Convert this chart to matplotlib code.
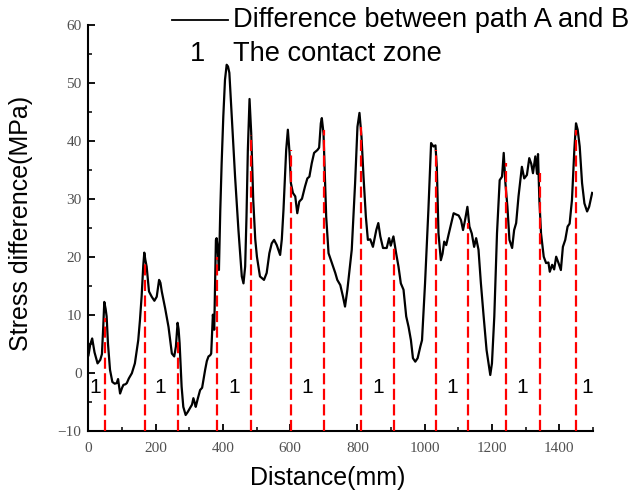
import matplotlib
matplotlib.use("Agg")
import matplotlib.pyplot as plt
from matplotlib.lines import Line2D
from matplotlib.ticker import MultipleLocator

# ---- data ----
dist = [0, 5, 11, 18, 27, 35, 40, 44, 47, 51, 54, 58, 64, 71, 78, 84, 88, 94, 100, 104,
        110, 114, 120, 129, 138, 148, 153, 158, 163, 166, 169, 173, 180, 188, 196, 203,
        210, 214, 218, 228, 238, 248, 255, 260, 265, 268, 271, 277, 282, 289, 295, 302,
        308, 312, 316, 319, 325, 332, 338, 347, 352, 357, 362, 365, 370, 374, 379, 381,
        384, 388, 392, 396, 401, 406, 411, 415, 419, 426, 436, 446, 456, 461, 466, 470,
        474, 479, 484, 490, 496, 501, 510, 522, 530, 538, 545, 552, 560, 570, 575, 580,
        588, 593, 598, 602, 608, 615, 621, 627, 635, 644, 651, 657, 664, 671, 681, 686,
        691, 694, 699, 707, 714, 724, 734, 740, 749, 757, 763, 770, 783, 793, 800, 806,
        812, 818, 825, 831, 838, 846, 856, 862, 868, 876, 887, 894, 899, 907, 915, 922,
        929, 937, 945, 952, 959, 965, 972, 979, 987, 992, 1001, 1011, 1019, 1026, 1032,
        1036, 1041, 1048, 1053, 1058, 1064, 1071, 1078, 1086, 1093, 1101, 1108, 1114,
        1120, 1127, 1133, 1140, 1147, 1153, 1160, 1167, 1175, 1184, 1190, 1195, 1200,
        1207, 1215, 1223, 1230, 1235, 1240, 1246, 1252, 1260, 1266, 1272, 1279, 1289,
        1296, 1304, 1311, 1317, 1322, 1329, 1334, 1337, 1341, 1346, 1354, 1361, 1368,
        1372, 1379, 1385, 1391, 1398, 1405, 1411, 1418, 1425, 1431, 1438, 1445, 1450,
        1455, 1461, 1468, 1475, 1483, 1489, 1498]
stress = [3.0, 4.8, 5.9, 3.5, 1.6, 2.2, 3.2, 8.0, 12.2, 11.0, 9.7, 5.0, 0.5, -1.6, -1.9,
          -1.8, -1.1, -3.6, -2.6, -2.1, -2.0, -1.8, -1.0, -0.1, 1.6, 5.6, 9.0, 13.1, 18.5,
          20.7, 19.5, 18.3, 14.0, 13.1, 12.4, 13.1, 16.0, 15.5, 14.0, 11.1, 7.9, 3.3, 2.8,
          4.5, 8.6, 7.5, 5.1, -2.4, -5.9, -7.3, -6.8, -6.1, -5.5, -4.4, -5.2, -5.9, -4.5,
          -3.0, -2.6, 0.5, 2.0, 2.8, 3.0, 3.3, 10.0, 7.4, 22.9, 23.2, 21.7, 17.7, 28.0,
          36.0, 44.2, 50.5, 53.1, 52.8, 51.7, 44.2, 33.8, 24.6, 16.6, 15.4, 18.3, 27.0,
          38.4, 47.2, 41.3, 29.8, 23.0, 20.0, 16.6, 16.0, 17.2, 20.6, 22.3, 22.9, 22.0,
          20.3, 23.0, 28.1, 38.4, 41.9, 37.9, 32.7, 31.0, 30.4, 27.5, 29.5, 30.0, 32.1,
          33.5, 33.8, 36.1, 37.9, 38.4, 38.8, 43.0, 43.9, 41.3, 26.9, 20.6, 18.9, 17.2,
          16.0, 15.1, 13.1, 11.4, 14.3, 21.2, 32.7, 42.4, 44.8, 40.7, 33.8, 26.9, 22.9,
          23.0, 21.7, 24.6, 25.8, 23.5, 21.5, 21.5, 23.2, 21.9, 23.5, 20.6, 18.3, 15.4,
          14.3, 9.7, 7.9, 5.6, 2.5, 1.9, 2.5, 4.5, 5.6, 15.4, 28.1, 39.6, 39.0, 39.2,
          35.5, 24.0, 19.4, 20.5, 22.6, 22.0, 23.8, 25.5, 27.5, 27.3, 27.1, 26.3, 24.6,
          26.3, 28.6, 25.2, 24.0, 21.7, 23.2, 21.2, 15.5, 9.9, 3.9, 1.6, -0.4, 1.6, 9.7,
          24.0, 33.2, 33.8, 37.9, 32.7, 28.6, 22.9, 21.5, 24.6, 25.8, 30.4, 35.5, 33.5,
          34.1, 37.0, 36.0, 34.4, 37.3, 34.3, 37.7, 29.8, 24.0, 20.0, 18.9, 19.0, 17.4,
          18.6, 17.8, 20.0, 18.9, 17.7, 21.7, 22.9, 25.2, 25.7, 29.8, 38.4, 43.0, 41.9,
          39.0, 32.7, 29.2, 27.8, 28.6, 31.0]

contact_x = [49, 168, 265, 383, 484, 602, 699, 810, 910, 1033, 1130, 1243, 1342, 1451]
contact_top = [9.5, 19.2, 5.6, 20.0, 41.0, 38.4, 41.9, 42.4, 21.7, 38.4, 25.8, 36.1, 34.4, 41.9]

zone_label_x = [19, 212, 434, 650, 862, 1082, 1290, 1483]
zone_label_y = [-2.6] * len(zone_label_x)

xticks = [0, 200, 400, 600, 800, 1000, 1200, 1400]
yticks = [-10, 0, 10, 20, 30, 40, 50, 60]

# ---- figure ----
fig = plt.figure(figsize=(6.32, 4.95), dpi=100)
ax = fig.add_axes([0.140, 0.130, 0.798, 0.820])

ax.vlines(contact_x, -10, contact_top, colors="#ff0000", linestyles=(0, (5, 2)),
          linewidth=1.6, zorder=3)
ax.plot(dist, stress, color="black", linewidth=1.6, zorder=2)

for lx, ly in zip(zone_label_x, zone_label_y):
    ax.text(lx, ly, "1", fontsize=15, family="Liberation Sans",
            ha="center", va="center", color="black")

ax.set_xlim(0, 1500)
ax.set_ylim(-10, 60)
ax.set_xticks(xticks)
ax.set_yticks(yticks)
ax.xaxis.set_minor_locator(MultipleLocator(100))
ax.yaxis.set_minor_locator(MultipleLocator(5))
ax.tick_params(which="major", direction="in", length=5, width=1.3,
               labelsize=11, labelcolor="#505050")
ax.tick_params(which="minor", direction="in", length=3, width=1.1)
for lab in ax.get_xticklabels() + ax.get_yticklabels():
    lab.set_family("Liberation Serif")
ax.tick_params(axis="x", pad=8)
ax.tick_params(axis="y", pad=5)

for s in ("top", "right"):
    ax.spines[s].set_visible(False)
for s in ("left", "bottom"):
    ax.spines[s].set_linewidth(1.5)

ax.set_xlabel("Distance(mm)", fontsize=18, family="Liberation Sans")
ax.set_ylabel("Stress difference(MPa)", fontsize=18, family="Liberation Sans")
ax.xaxis.set_label_coords(0.475, -0.088)
ax.yaxis.set_label_coords(-0.11, 0.51)

# ---- custom legend ----
fig.add_artist(Line2D([172 / 632, 228 / 632], [1 - 20 / 495, 1 - 20 / 495],
                      color="black", linewidth=1.3))
fig.text(233 / 632, 1 - 20 / 495, "Difference between path A and B", fontsize=19.6,
         family="Liberation Sans", va="center", ha="left")
fig.text(198 / 632, 1 - 54 / 495, "1", fontsize=19.6, family="Liberation Sans",
         va="center", ha="center")
fig.text(233 / 632, 1 - 54 / 495, "The contact zone", fontsize=19.6,
         family="Liberation Sans", va="center", ha="left")

fig.savefig("out.png", dpi=100)
